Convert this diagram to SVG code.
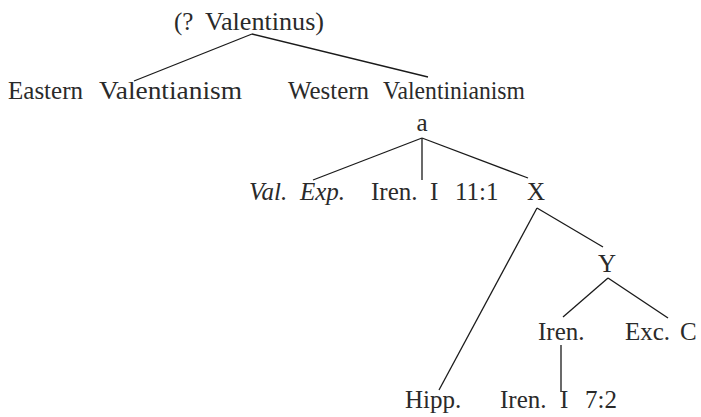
<svg xmlns="http://www.w3.org/2000/svg" width="701" height="417" viewBox="0 0 701 417">
<style>
text{font-family:"Liberation Serif","Times New Roman",serif;font-size:25px;fill:#2a2a2a}
.i{font-style:italic}
.e line{stroke:#1a1a1a;stroke-width:1.3;fill:none}
</style>
<rect width="701" height="417" fill="#ffffff"/>
<g class="e" id="connectors">
<line x1="252" y1="34" x2="134" y2="81"/>
<line x1="252" y1="34" x2="428" y2="77"/>
<line x1="422" y1="138" x2="313" y2="180"/>
<line x1="422" y1="138" x2="422" y2="180"/>
<line x1="422" y1="138" x2="528" y2="178"/>
<line x1="537" y1="208" x2="603" y2="247"/>
<line x1="537" y1="208" x2="439" y2="390"/>
<line x1="608" y1="278" x2="563" y2="317"/>
<line x1="608" y1="278" x2="668" y2="318"/>
<line x1="561" y1="345" x2="561" y2="392"/>
</g>
<g id="valentinus"><text x="174" y="30">(?</text><text x="205" y="30" textLength="119" lengthAdjust="spacingAndGlyphs">Valentinus)</text></g>
<g id="eastern"><text x="8" y="99" textLength="75" lengthAdjust="spacingAndGlyphs">Eastern</text><text x="99" y="99" textLength="143" lengthAdjust="spacingAndGlyphs">Valentianism</text></g>
<g id="western"><text x="288" y="99" textLength="81" lengthAdjust="spacingAndGlyphs">Western</text><text x="383" y="99" textLength="142" lengthAdjust="spacingAndGlyphs">Valentinianism</text></g>
<g id="a"><text x="422" y="131" text-anchor="middle">a</text></g>
<g id="valexp"><text class="i" x="249" y="200">Val.</text><text class="i" x="300" y="200">Exp.</text></g>
<g id="iren11"><text x="371" y="200">Iren.</text><text x="430" y="200">I</text><text x="455" y="200">11:1</text></g>
<g id="X"><text x="527" y="200">X</text></g>
<g id="Y"><text x="598" y="272">Y</text></g>
<g id="iren"><text x="538" y="340">Iren.</text></g>
<g id="excC"><text x="625" y="340">Exc.</text><text x="680" y="340">C</text></g>
<g id="hipp"><text x="405" y="408">Hipp.</text></g>
<g id="iren72"><text x="500" y="408">Iren.</text><text x="560" y="408">I</text><text x="585" y="408">7:2</text></g>
</svg>
